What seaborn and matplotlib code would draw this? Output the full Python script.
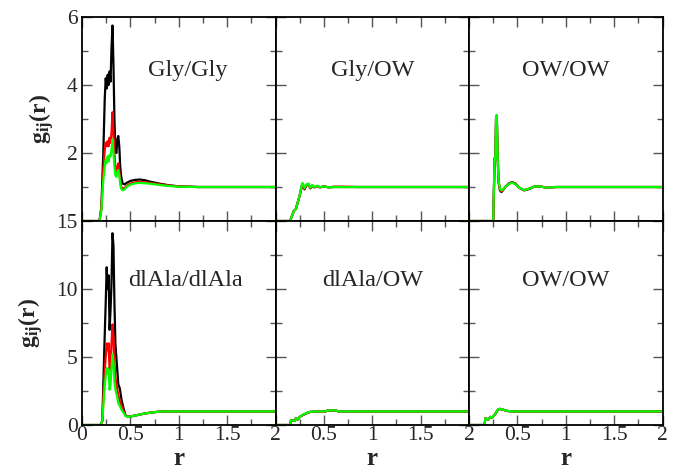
import numpy as np
import pandas as pd
import matplotlib
matplotlib.use("Agg")
import matplotlib.pyplot as plt
import seaborn as sns
from matplotlib.ticker import MultipleLocator, FixedLocator, FixedFormatter

# ---------------- data ----------------
panel_titles = ["Gly/Gly", "Gly/OW", "OW/OW", "dlAla/dlAla", "dlAla/OW", "OW/OW"]
series_names = ["black", "red", "green"]

# Gly/Gly
r_gg = [0, 0.18, 0.20, 0.22, 0.235, 0.245, 0.255, 0.265, 0.275, 0.285, 0.295, 0.305, 0.315, 0.325,
        0.335, 0.345, 0.355, 0.365, 0.375, 0.385, 0.395, 0.405, 0.42, 0.44, 0.46, 0.5, 0.55, 0.6,
        0.65, 0.7, 0.8, 0.9, 1.0, 1.2, 1.5, 2.0]
g_gg_black = [0, 0, 0.4, 2.0, 3.6, 4.2, 3.9, 4.3, 4.0, 4.4, 4.1, 5.1, 5.75, 4.6, 3.0, 2.1, 2.0, 2.4,
              2.5, 2.2, 1.6, 1.3, 1.1, 1.08, 1.12, 1.18, 1.21, 1.22, 1.2, 1.16, 1.1, 1.05, 1.02, 1.0, 1.0, 1.0]
g_gg_red = [0, 0, 0.35, 1.5, 2.1, 2.3, 2.2, 2.35, 2.2, 2.45, 2.3, 2.6, 3.2, 2.6, 2.0, 1.5, 1.45, 1.6,
            1.7, 1.5, 1.2, 1.0, 0.95, 0.97, 1.03, 1.1, 1.14, 1.15, 1.14, 1.12, 1.08, 1.04, 1.02, 1.0, 1.0, 1.0]
g_gg_green = [0, 0, 0.3, 1.2, 1.6, 1.8, 1.7, 1.9, 1.75, 1.95, 1.9, 2.1, 2.4, 2.0, 1.6, 1.35, 1.3, 1.45,
              1.5, 1.35, 1.1, 0.95, 0.9, 0.93, 1.0, 1.07, 1.11, 1.12, 1.11, 1.1, 1.06, 1.03, 1.01, 1.0, 1.0, 1.0]

# Gly/OW
r_gw = [0, 0.15, 0.17, 0.19, 0.21, 0.23, 0.25, 0.27, 0.28, 0.30, 0.32, 0.34, 0.36, 0.38, 0.40, 0.43,
        0.46, 0.5, 0.55, 0.6, 0.7, 0.85, 1.0, 2.0]
g_gw_black = [0, 0, 0.15, 0.3, 0.35, 0.55, 0.75, 1.0, 1.08, 0.93, 1.05, 1.08, 0.96, 1.04, 0.99, 1.03,
              0.99, 1.02, 0.99, 1.0, 1.0, 1.0, 1.0, 1.0]
g_gw_red = [0, 0, 0.15, 0.3, 0.35, 0.55, 0.75, 1.02, 1.1, 0.95, 1.06, 1.09, 0.97, 1.05, 0.99, 1.03,
            0.99, 1.02, 0.99, 1.01, 1.01, 1.0, 1.0, 1.0]
g_gw_green = [0, 0, 0.15, 0.3, 0.35, 0.55, 0.75, 1.05, 1.12, 0.97, 1.08, 1.1, 0.98, 1.06, 1.0, 1.04,
              0.99, 1.02, 0.99, 1.0, 1.0, 1.0, 1.0, 1.0]

# OW/OW (top)
r_ww1 = [0, 0.25, 0.258, 0.265, 0.272, 0.28, 0.287, 0.295, 0.305, 0.32, 0.335, 0.35, 0.38, 0.42,
         0.45, 0.48, 0.52, 0.57, 0.62, 0.68, 0.75, 0.8, 0.9, 1.0, 2.0]
g_ww1_black = [0, 0, 1.0, 1.85, 1.8, 3.05, 3.1, 2.0, 1.15, 0.9, 0.85, 0.9, 1.02, 1.12, 1.14, 1.1,
               0.98, 0.9, 0.94, 1.02, 1.01, 0.98, 1.0, 1.0, 1.0]
g_ww1_red = [0, 0, 1.0, 1.85, 1.8, 3.08, 3.1, 2.0, 1.18, 0.92, 0.87, 0.91, 1.02, 1.11, 1.13, 1.09,
             0.98, 0.91, 0.95, 1.02, 1.01, 0.98, 1.0, 1.0, 1.0]
g_ww1_green = [0, 0, 1.0, 1.85, 1.8, 3.1, 3.12, 2.0, 1.2, 0.95, 0.9, 0.92, 1.02, 1.1, 1.12, 1.08,
               0.98, 0.91, 0.95, 1.02, 1.01, 0.98, 1.0, 1.0, 1.0]

# dlAla/dlAla
r_aa = [0, 0.19, 0.21, 0.23, 0.245, 0.255, 0.265, 0.275, 0.285, 0.295, 0.305, 0.315, 0.325, 0.335,
        0.345, 0.36, 0.375, 0.39, 0.41, 0.43, 0.45, 0.48, 0.55, 0.65, 0.75, 0.85, 1.0, 2.0]
g_aa_black = [0, 0, 0.3, 5.5, 9.0, 11.6, 10.0, 11.0, 7.0, 8.5, 10.5, 14.1, 13.2, 9.0, 6.0, 4.5, 3.0,
              2.7, 1.8, 1.2, 0.7, 0.6, 0.7, 0.85, 0.95, 1.0, 1.0, 1.0]
g_aa_red = [0, 0, 0.3, 3.5, 5.0, 6.0, 5.5, 6.0, 4.0, 4.5, 6.0, 7.4, 6.5, 4.5, 3.5, 2.8, 2.2, 1.8, 1.4,
            1.0, 0.7, 0.6, 0.7, 0.85, 0.95, 1.0, 1.0, 1.0]
g_aa_green = [0, 0, 0.3, 2.5, 3.6, 4.2, 3.8, 4.1, 2.6, 3.0, 4.2, 5.2, 4.6, 3.2, 2.6, 2.2, 1.6, 1.4,
              1.1, 0.9, 0.65, 0.6, 0.7, 0.85, 0.95, 1.0, 1.0, 1.0]

# dlAla/OW
r_aw = [0, 0.15, 0.16, 0.2, 0.21, 0.23, 0.25, 0.28, 0.31, 0.34, 0.37, 0.45, 0.52, 0.54, 0.62, 0.65,
        0.7, 2.0]
g_aw_black = [0, 0, 0.35, 0.3, 0.5, 0.4, 0.6, 0.72, 0.82, 0.93, 0.97, 1.0, 1.0, 1.07, 1.07, 1.0, 1.0, 1.0]
g_aw_red = [0, 0, 0.35, 0.3, 0.5, 0.4, 0.6, 0.73, 0.84, 0.94, 0.98, 1.0, 1.0, 1.08, 1.08, 1.0, 1.0, 1.0]
g_aw_green = [0, 0, 0.35, 0.3, 0.5, 0.4, 0.6, 0.75, 0.85, 0.95, 0.98, 1.0, 1.0, 1.08, 1.08, 1.0, 1.0, 1.0]

# OW/OW (bottom)
r_ww2 = [0, 0.16, 0.17, 0.2, 0.22, 0.24, 0.27, 0.3, 0.32, 0.34, 0.37, 0.4, 0.45, 2.0]
g_ww2_black = [0, 0, 0.5, 0.4, 0.6, 0.55, 0.8, 1.13, 1.18, 1.14, 1.09, 1.03, 1.0, 1.0]
g_ww2_red = [0, 0, 0.5, 0.4, 0.6, 0.55, 0.8, 1.14, 1.19, 1.15, 1.1, 1.03, 1.0, 1.0]
g_ww2_green = [0, 0, 0.5, 0.4, 0.6, 0.55, 0.8, 1.15, 1.2, 1.15, 1.1, 1.03, 1.0, 1.0]

panels = [
    (r_gg, g_gg_black, g_gg_red, g_gg_green),
    (r_gw, g_gw_black, g_gw_red, g_gw_green),
    (r_ww1, g_ww1_black, g_ww1_red, g_ww1_green),
    (r_aa, g_aa_black, g_aa_red, g_aa_green),
    (r_aw, g_aw_black, g_aw_red, g_aw_green),
    (r_ww2, g_ww2_black, g_ww2_red, g_ww2_green),
]

x_ticks = [0, 0.5, 1, 1.5, 2]
x_tick_labels = ["0", "0.5", "1", "1.5", "2"]
top_y_ticks = [2, 4, 6]
bottom_y_ticks = [0, 5, 10, 15]

# ---------------- style ----------------
sns.set_style("ticks")
plt.rcParams["font.family"] = ["Liberation Serif", "DejaVu Serif"]
plt.rcParams["mathtext.fontset"] = "custom"
plt.rcParams["mathtext.rm"] = "Liberation Serif:bold"
plt.rcParams["mathtext.it"] = "Liberation Serif:bold"
plt.rcParams["mathtext.bf"] = "Liberation Serif:bold"

colors = {"black": "#000000", "red": "#ff0000", "green": "#00ff00"}

fig, axes = plt.subplots(2, 3, figsize=(6.75, 4.7), dpi=100)
fig.subplots_adjust(left=0.1215, right=0.9815, top=0.9638, bottom=0.0957, wspace=0, hspace=0)

for idx, ax in enumerate(axes.flat):
    r, gb, gr, gg = panels[idx]
    frames = []
    for name, g in zip(series_names, [gb, gr, gg]):
        frames.append(pd.DataFrame({"r": r, "g": g, "s": name}))
    df = pd.concat(frames, ignore_index=True)
    sns.lineplot(data=df, x="r", y="g", hue="s", palette=colors, hue_order=series_names,
                 estimator=None, sort=False, linewidth=1.6, legend=False, ax=ax)
    row, col = divmod(idx, 3)
    ax.set_xlim(0, 2)
    ax.xaxis.set_major_locator(FixedLocator(x_ticks))
    ax.xaxis.set_minor_locator(MultipleLocator(0.25))
    if row == 0:
        ax.set_ylim(0, 6)
        ax.yaxis.set_major_locator(FixedLocator(top_y_ticks))
        ax.yaxis.set_minor_locator(MultipleLocator(1))
        ax.set_xticklabels([])
    else:
        ax.set_ylim(0, 15)
        ax.yaxis.set_major_locator(FixedLocator(bottom_y_ticks))
        ax.yaxis.set_minor_locator(MultipleLocator(2.5))
        labs = list(x_tick_labels)
        if col > 0:
            labs[0] = ""
        ax.xaxis.set_major_formatter(FixedFormatter(labs))
    if col > 0:
        ax.set_yticklabels([])
    ax.tick_params(which="both", direction="in", top=True, right=True, color="#555555",
                   labelsize=15.5)
    ax.tick_params(axis="x", pad=1)
    ax.tick_params(axis="y", pad=3)
    ax.tick_params(which="major", length=7.5, width=1.0)
    ax.tick_params(which="minor", length=4, width=1.0)
    for sp in ax.spines.values():
        sp.set_linewidth(1.3)
        sp.set_color("black")
    ax.set_xlabel("r" if row == 1 else "", fontsize=18, fontweight="bold", labelpad=1)
    ax.set_ylabel("g$_{\\rm ij}$(r)" if col == 0 else "", fontsize=17, fontweight="bold", labelpad=8)

    tx = {0: 0.545, 3: 0.535}.get(idx, 0.5)
    ty = 0.74 if row == 0 else 0.71
    ax.text(tx, ty, panel_titles[idx], transform=ax.transAxes, ha="center", va="center",
            fontsize=17.5)

fig.savefig("out.png", dpi=100)
